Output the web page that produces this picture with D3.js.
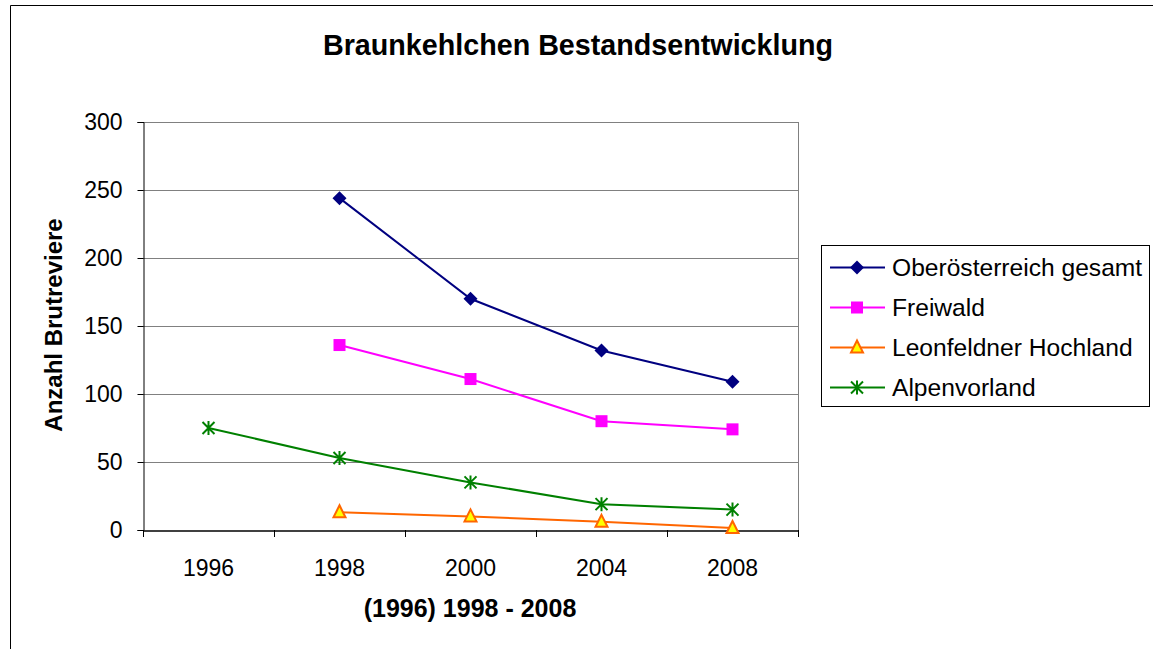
<!DOCTYPE html>
<html><head><meta charset="utf-8">
<script src="https://cdn.jsdelivr.net/npm/d3@7"></script>
<style>body{margin:0;background:#fff}svg{display:block}text{font-family:"Liberation Sans",Arial,sans-serif}</style>
</head><body><svg id="c" width="1153" height="649"></svg>
<script>
const categories = ["1996","1998","2000","2004","2008"];
const yTicks = [0,50,100,150,200,250,300];
const seriesNames = ["Oberösterreich gesamt","Freiwald","Leonfeldner Hochland","Alpenvorland"];
const oberoesterreich = [null,244,170,132,109];
const freiwald = [null,136,111,80,74];
const leonfeldner = [null,13,10,6,1.5];
const alpenvorland = [75,53,35,19,15];

const svg = d3.select("#c");
const L=143,R=798,T=122,B=530;
const x = d3.scaleBand().domain(categories).range([L,R]);
const y = d3.scaleLinear().domain([0,300]).range([B,T]);
const FONT = "Liberation Sans, Arial, sans-serif";

// outer border
svg.append("path").attr("d","M10.5,649 L10.5,5.5 L1153,5.5").attr("fill","none").attr("stroke","#000").attr("stroke-width",1);

// gridlines
svg.append("g").selectAll("line").data(yTicks.filter(d=>d>0)).join("line")
  .attr("x1",L).attr("x2",R).attr("y1",d=>Math.round(y(d))+0.5).attr("y2",d=>Math.round(y(d))+0.5)
  .attr("stroke","#808080").attr("stroke-width",1);
// right border of plot
svg.append("line").attr("x1",R+0.5).attr("x2",R+0.5).attr("y1",T).attr("y2",B).attr("stroke","#808080");

// y axis
const ya = svg.append("g").attr("transform",`translate(${L+0.5},0)`)
  .call(d3.axisLeft(y).tickValues(yTicks).tickSize(6).tickPadding(15).tickFormat(d3.format("d")));
ya.select(".domain").attr("stroke","#000");
ya.selectAll(".tick line").attr("stroke","#000");
ya.selectAll("text").attr("font-size","23px").attr("fill","#000").style("font-family",FONT);

// x axis
const xa = svg.append("g").attr("transform",`translate(0,${B+0.5})`)
  .call(d3.axisBottom(x).tickSize(0).tickPadding(28));
xa.select(".domain").attr("stroke","#000").attr("stroke-width",1.5);
xa.selectAll("text").attr("font-size","23px").attr("fill","#000").attr("dy","0").style("font-family",FONT)
  .attr("y",575-B);
// band-boundary ticks
const bounds = categories.map(c=>x(c)).concat([R]);
svg.append("g").selectAll("line").data(bounds).join("line")
  .attr("x1",d=>Math.round(d)+0.5).attr("x2",d=>Math.round(d)+0.5).attr("y1",B).attr("y2",B+7).attr("stroke","#000");

// titles
svg.append("text").attr("x",578).attr("y",55).attr("text-anchor","middle").attr("font-size","28.7px").attr("font-weight","bold").text("Braunkehlchen Bestandsentwicklung");
svg.append("text").attr("x",470).attr("y",617).attr("text-anchor","middle").attr("font-size","25px").attr("font-weight","bold").text("(1996) 1998 - 2008");
svg.append("text").attr("transform","translate(62,325) rotate(-90)").attr("text-anchor","middle").attr("font-size","24px").attr("font-weight","bold").text("Anzahl Brutreviere");

const styles = [
  {color:"#000080", marker:"diamond"},
  {color:"#FF00FF", marker:"square"},
  {color:"#FF6600", marker:"triangle"},
  {color:"#008000", marker:"star"}
];
const data = [oberoesterreich,freiwald,leonfeldner,alpenvorland];

function drawMarker(g, type, cx, cy){
  if(type==="diamond"){
    g.append("path").attr("d",`M${cx},${cy-7} L${cx+7},${cy} L${cx},${cy+7} L${cx-7},${cy} Z`).attr("fill","#000080");
  } else if(type==="square"){
    g.append("rect").attr("x",cx-6).attr("y",cy-6).attr("width",12).attr("height",12).attr("fill","#FF00FF");
  } else if(type==="triangle"){
    g.append("path").attr("d",`M${cx},${cy-7} L${cx+6},${cy+5} L${cx-6},${cy+5} Z`).attr("fill","#FFFF00").attr("stroke","#FF6600").attr("stroke-width",2);
  } else {
    g.append("path").attr("d",`M${cx-6},${cy-6} L${cx+6},${cy+6} M${cx-6},${cy+6} L${cx+6},${cy-6} M${cx},${cy-7} L${cx},${cy+7}`).attr("stroke","#008000").attr("stroke-width",2);
  }
}

const line = d3.line().defined(d=>d.v!==null).x(d=>x(d.c)+x.bandwidth()/2).y(d=>y(d.v));
data.forEach((vals,i)=>{
  const pts = categories.map((c,j)=>({c, v:vals[j]}));
  const g = svg.append("g");
  g.append("path").datum(pts).attr("d",line).attr("fill","none").attr("stroke",styles[i].color).attr("stroke-width",2);
  pts.filter(p=>p.v!==null).forEach(p=>drawMarker(g, styles[i].marker, x(p.c)+x.bandwidth()/2, y(p.v)));
});

// legend
const lg = svg.append("g");
lg.append("rect").attr("x",821.5).attr("y",245.5).attr("width",328).attr("height",161).attr("fill","#fff").attr("stroke","#000");
seriesNames.forEach((n,i)=>{
  const cy = 267.5 + i*40;
  lg.append("line").attr("x1",830).attr("x2",885).attr("y1",cy).attr("y2",cy).attr("stroke",styles[i].color).attr("stroke-width",2);
  drawMarker(lg, styles[i].marker, 857, cy);
  lg.append("text").attr("x",892).attr("y",cy+8).attr("font-size","24.6px").text(n);
});
</script></body></html>
